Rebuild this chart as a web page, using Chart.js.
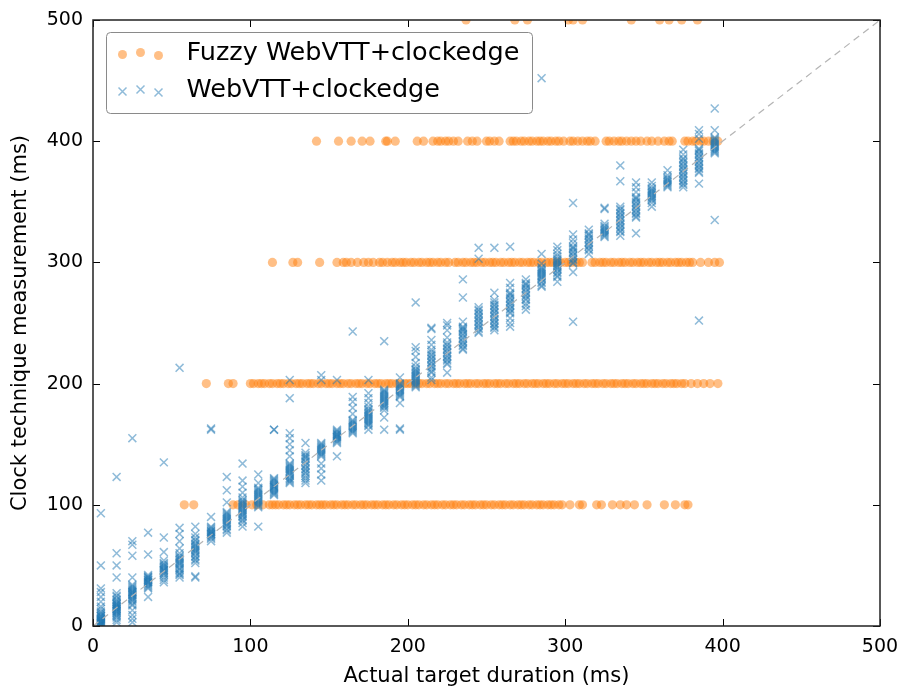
<!DOCTYPE html>
<html>
<head>
<meta charset="utf-8">
<script src="https://cdn.jsdelivr.net/npm/chart.js@4/dist/chart.umd.min.js"></script>
<style>
  body { margin: 0; background: #fff; }
  canvas { display: block; }
</style>
</head>
<body>
<canvas id="chart" width="899" height="689"></canvas>
<script>
// series names, axis titles, ticks
var seriesNames = ['Fuzzy WebVTT+clockedge', 'WebVTT+clockedge'];
var xTitle = 'Actual target duration (ms)';
var yTitle = 'Clock technique measurement (ms)';
var axisTicks = [0, 100, 200, 300, 400, 500];

// fuzzy technique: measurement snaps to one of these levels
var fuzzyLevels = [100, 200, 300, 400, 500];
var fuzzy100 = [58, 64, 89, 92, 97, 101, 104, 108, 112, 114, 116, 118, 121, 123, 125, 128, 130, 132, 135, 137, 139, 142, 144, 146, 148, 151, 153, 155, 158, 160, 162, 165, 167, 170, 172, 174, 177, 179, 181, 184, 186, 188, 191, 193, 196, 198, 200, 203, 205, 207, 210, 212, 215, 217, 219, 222, 224, 227, 229, 231, 234, 236, 239, 241, 243, 246, 248, 250, 253, 255, 258, 260, 262, 265, 267, 270, 272, 274, 277, 279, 282, 284, 286, 289, 291, 293, 296, 298, 303, 309, 311, 320, 323, 330, 335, 339, 344, 352, 363, 370, 376, 378];
var fuzzy200 = [72, 86, 89, 100, 102, 105, 107, 109, 112, 114, 117, 119, 121, 124, 126, 129, 131, 133, 136, 138, 140, 143, 145, 148, 150, 152, 155, 157, 159, 162, 164, 167, 169, 171, 174, 176, 179, 181, 183, 186, 188, 190, 193, 195, 198, 200, 202, 205, 207, 209, 212, 214, 217, 219, 221, 224, 226, 229, 231, 233, 236, 238, 240, 243, 245, 248, 250, 252, 255, 257, 259, 262, 264, 267, 269, 271, 274, 276, 279, 281, 283, 286, 288, 290, 293, 295, 298, 300, 302, 305, 307, 309, 312, 314, 317, 319, 321, 324, 326, 329, 331, 333, 336, 338, 340, 343, 345, 348, 350, 352, 355, 357, 359, 362, 364, 367, 369, 371, 374, 376, 380, 384, 388, 392, 397];
var fuzzy300 = [114, 127, 130, 144, 155, 159, 161, 164, 168, 172, 175, 178, 182, 184, 187, 190, 192, 195, 197, 199, 202, 204, 207, 209, 212, 214, 216, 219, 221, 224, 226, 230, 232, 235, 237, 240, 242, 244, 247, 249, 252, 254, 256, 259, 261, 264, 266, 268, 271, 273, 276, 278, 280, 283, 285, 288, 290, 292, 295, 297, 300, 302, 304, 307, 309, 311, 317, 319, 322, 324, 326, 329, 331, 334, 336, 338, 341, 343, 346, 348, 350, 353, 355, 358, 360, 362, 365, 367, 370, 372, 374, 377, 379, 381, 386, 391, 395, 398];
var fuzzy400 = [142, 156, 164, 171, 176, 186, 187, 192, 206, 210, 216, 219, 221, 224, 226, 229, 232, 238, 241, 244, 250, 252, 255, 258, 265, 267, 269, 272, 274, 277, 279, 282, 284, 286, 289, 291, 294, 296, 299, 303, 305, 308, 311, 314, 316, 319, 326, 328, 331, 334, 336, 339, 342, 345, 348, 352, 355, 359, 363, 366, 368, 376, 378, 381, 383, 386, 388, 391, 394, 397];
var fuzzy500 = [237, 268, 276, 302, 305, 311, 342, 360, 366, 374, 384];
var fuzzyX = [fuzzy100, fuzzy200, fuzzy300, fuzzy400, fuzzy500];

// plain technique: target durations and the measurements taken at each
var webvttTargets = [5, 15, 25, 35, 45, 55, 65, 75, 85, 95, 105, 115, 125, 135, 145, 155, 165, 175, 185, 195,
  205, 215, 225, 235, 245, 255, 265, 275, 285, 295, 305, 315, 325, 335, 345, 355, 365, 375, 385, 395];
var webvttMeasured = [
  [0, 1, 1, 2, 2, 3, 3, 4, 4, 5, 5, 6, 6, 7, 8, 8, 9, 10, 11, 12, 14, 16, 20, 24, 28, 31, 50, 93],
  [3, 5, 7, 8, 9, 10, 11, 12, 12, 13, 14, 14, 15, 16, 16, 17, 18, 18, 19, 20, 21, 22, 24, 25, 27, 40, 50, 60, 123],
  [3, 6, 9, 13, 17, 18, 20, 21, 22, 23, 24, 25, 26, 26, 27, 28, 28, 29, 30, 31, 32, 33, 34, 40, 58, 67, 70, 155],
  [24, 31, 32, 33, 34, 35, 36, 36, 37, 38, 38, 39, 40, 40, 41, 42, 59, 77],
  [36, 38, 40, 42, 43, 44, 45, 46, 46, 47, 48, 49, 50, 51, 52, 54, 61, 73, 135],
  [40, 42, 43, 44, 46, 47, 48, 50, 51, 52, 53, 54, 55, 56, 57, 58, 60, 64, 70, 76, 81, 213],
  [40, 41, 52, 54, 55, 57, 58, 60, 61, 62, 63, 64, 65, 66, 67, 68, 70, 71, 73, 76, 82],
  [70, 72, 73, 74, 75, 76, 76, 77, 78, 78, 79, 80, 81, 82, 90, 162, 163],
  [77, 79, 80, 82, 83, 84, 85, 86, 87, 88, 89, 90, 91, 92, 93, 94, 102, 112, 123],
  [82, 85, 87, 88, 90, 91, 92, 93, 94, 95, 96, 97, 98, 99, 100, 101, 102, 103, 104, 106, 110, 115, 120, 134],
  [82, 98, 99, 100, 101, 102, 103, 104, 105, 106, 107, 108, 109, 110, 111, 112, 113, 114, 118, 125],
  [108, 109, 110, 111, 112, 113, 114, 115, 115, 116, 117, 118, 119, 120, 121, 122, 162, 162],
  [118, 119, 120, 121, 122, 124, 125, 126, 127, 128, 129, 130, 131, 132, 133, 134, 140, 145, 150, 155, 159, 188, 203],
  [118, 120, 122, 124, 126, 127, 129, 130, 132, 133, 135, 136, 138, 139, 140, 141, 143, 151],
  [120, 125, 130, 134, 140, 141, 142, 143, 144, 145, 146, 147, 148, 149, 150, 151, 203, 207],
  [140, 151, 152, 153, 154, 155, 156, 156, 157, 158, 158, 159, 160, 161, 162, 203],
  [159, 160, 161, 162, 163, 164, 165, 166, 167, 168, 169, 170, 175, 180, 185, 189, 243],
  [162, 165, 166, 167, 168, 169, 170, 171, 172, 173, 174, 175, 176, 177, 178, 179, 181, 184, 188, 192, 203],
  [162, 172, 178, 180, 181, 182, 183, 184, 185, 186, 187, 188, 189, 190, 191, 192, 193, 194, 195, 235],
  [162, 163, 184, 189, 190, 191, 192, 193, 194, 195, 196, 197, 198, 199, 200, 205],
  [197, 198, 199, 200, 201, 202, 203, 204, 205, 206, 207, 208, 209, 210, 211, 212, 214, 217, 222, 227, 230, 267],
  [203, 205, 209, 210, 212, 214, 215, 217, 218, 220, 221, 223, 224, 226, 228, 232, 236, 245, 246],
  [209, 216, 217, 219, 220, 222, 223, 225, 226, 228, 229, 231, 232, 234, 238, 244, 248, 250],
  [228, 229, 231, 232, 234, 235, 237, 238, 240, 241, 243, 244, 245, 246, 247, 251, 271, 286],
  [242, 243, 245, 246, 248, 249, 251, 252, 254, 255, 257, 258, 260, 261, 263, 303, 312],
  [244, 246, 247, 249, 250, 252, 253, 255, 256, 258, 259, 261, 262, 264, 265, 267, 269, 275, 312],
  [247, 250, 254, 258, 259, 261, 262, 264, 265, 267, 268, 270, 271, 273, 274, 275, 279, 283, 313],
  [261, 264, 266, 269, 270, 272, 273, 275, 276, 278, 279, 281, 282, 283, 286],
  [280, 281, 283, 284, 286, 287, 288, 289, 290, 291, 292, 293, 294, 295, 296, 299, 307, 452],
  [284, 288, 289, 291, 292, 294, 295, 296, 297, 298, 299, 300, 301, 302, 303, 305, 307, 310, 313],
  [251, 292, 299, 300, 302, 303, 305, 306, 308, 309, 311, 312, 313, 316, 319, 323, 349],
  [307, 310, 311, 313, 314, 316, 317, 319, 320, 322, 323, 324, 327],
  [321, 322, 323, 324, 325, 326, 327, 328, 329, 330, 332, 344, 345],
  [322, 325, 326, 328, 329, 331, 332, 334, 335, 337, 338, 340, 341, 343, 344, 346, 367, 380],
  [324, 337, 338, 340, 341, 343, 344, 346, 347, 349, 350, 352, 353, 354, 358, 362, 366],
  [346, 349, 351, 352, 353, 354, 355, 356, 357, 358, 359, 360, 361, 363, 366],
  [362, 363, 364, 365, 366, 367, 368, 369, 370, 372, 376],
  [362, 364, 365, 367, 368, 370, 371, 373, 374, 376, 377, 379, 380, 382, 383, 385, 386, 389, 393],
  [252, 365, 374, 375, 377, 378, 380, 381, 383, 384, 386, 387, 389, 390, 392, 393, 394, 402, 406, 409],
  [335, 390, 391, 392, 393, 394, 395, 396, 397, 398, 399, 400, 401, 402, 403, 409, 427]
];

var fuzzyPoints = [];
fuzzyX.forEach(function (xs, i) {
    xs.forEach(function (x) { fuzzyPoints.push({ x: x, y: fuzzyLevels[i] }); });
});
var webvttPoints = [];
webvttTargets.forEach(function (t, i) {
    webvttMeasured[i].forEach(function (m) { webvttPoints.push({ x: t, y: m }); });
});

var orange = 'rgba(255, 127, 14, 0.5)';
var blue = 'rgba(31, 119, 180, 0.5)';
var tickFont = { family: "'DejaVu Sans'", size: 19 };
var titleFont = { family: "'DejaVu Sans'", size: 21 };

// frame, inward ticks on all four sides, and the legend box
var framePlugin = {
    id: 'frame',
    afterDatasetsDraw: function (chart) {
        var ctx = chart.ctx, a = chart.chartArea;
        var xs = chart.scales.x, ys = chart.scales.y;
        ctx.save();
        ctx.strokeStyle = '#000';
        ctx.lineWidth = 1;
        xs.ticks.forEach(function (t) {
            var px = Math.round(xs.getPixelForValue(t.value)) + 0.5;
            ctx.beginPath();
            ctx.moveTo(px, a.bottom); ctx.lineTo(px, a.bottom - 7);
            ctx.moveTo(px, a.top); ctx.lineTo(px, a.top + 7);
            ctx.stroke();
        });
        ys.ticks.forEach(function (t) {
            var py = Math.round(ys.getPixelForValue(t.value)) + 0.5;
            ctx.beginPath();
            ctx.moveTo(a.left, py); ctx.lineTo(a.left + 7, py);
            ctx.moveTo(a.right, py); ctx.lineTo(a.right - 7, py);
            ctx.stroke();
        });
        ctx.lineWidth = 1.5;
        ctx.strokeStyle = '#222';
        ctx.strokeRect(a.left, a.top, a.right - a.left, a.bottom - a.top);

        // legend
        var bx = a.left + 13.5, by = a.top + 12.5, bw = 426, bh = 81;
        ctx.beginPath();
        ctx.roundRect(bx, by, bw, bh, 4);
        ctx.fillStyle = '#fff';
        ctx.fill();
        ctx.lineWidth = 1;
        ctx.strokeStyle = '#8a8a8a';
        ctx.stroke();
        var mx = [bx + 16, bx + 34, bx + 52];
        var jitter = [1, -1, 2];
        var rows = [by + 21, by + 58];
        mx.forEach(function (x, k) {
            ctx.beginPath();
            ctx.arc(x, rows[0] + jitter[k], 4.5, 0, Math.PI * 2);
            ctx.fillStyle = orange;
            ctx.fill();
            var y = rows[1] + jitter[k];
            ctx.beginPath();
            ctx.moveTo(x - 4, y - 4); ctx.lineTo(x + 4, y + 4);
            ctx.moveTo(x - 4, y + 4); ctx.lineTo(x + 4, y - 4);
            ctx.lineWidth = 1.5;
            ctx.strokeStyle = blue;
            ctx.stroke();
        });
        ctx.fillStyle = '#000';
        ctx.font = "25.5px 'DejaVu Sans'";
        ctx.textBaseline = 'middle';
        ctx.fillText(seriesNames[0], bx + 80, rows[0]);
        ctx.fillText(seriesNames[1], bx + 80, rows[1]);
        ctx.restore();
    }
};

var ctx = document.getElementById('chart');
var myChart = new Chart(ctx, {
    type: 'scatter',
    data: {
        datasets: [{
            type: 'line',
            label: 'diagonal',
            data: [{ x: 0, y: 0 }, { x: 500, y: 500 }],
            borderColor: '#b4b4b4',
            borderWidth: 1.2,
            borderDash: [7, 5],
            pointRadius: 0,
            fill: false,
            order: 0
        }, {
            label: seriesNames[1],
            data: webvttPoints,
            pointStyle: 'crossRot',
            pointRadius: 5.6,
            pointBorderWidth: 1.5,
            borderColor: blue,
            backgroundColor: blue,
            clip: 0,
            order: 1
        }, {
            label: seriesNames[0],
            data: fuzzyPoints,
            pointStyle: 'circle',
            pointRadius: 4.6,
            pointBorderWidth: 0,
            borderColor: 'rgba(0,0,0,0)',
            backgroundColor: orange,
            clip: 0,
            order: 2
        }]
    },
    options: {
        responsive: false,
        animation: false,
        events: [],
        layout: { padding: { left: 0, right: 19, top: 20, bottom: 0 } },
        plugins: {
            legend: { display: false },
            tooltip: { enabled: false }
        },
        scales: {
            x: {
                type: 'linear',
                min: 0,
                max: 500,
                afterBuildTicks: function (s) { s.ticks = axisTicks.map(function (v) { return { value: v }; }); },
                afterFit: function (s) { s.height = 63; s.paddingLeft = 0; s.paddingRight = 0; },
                grid: { display: false, drawTicks: false },
                border: { display: false },
                ticks: { padding: 10, color: '#000', font: tickFont, maxRotation: 0 },
                title: { display: true, text: xTitle, color: '#000', font: titleFont, padding: { top: 0, bottom: 0 } }
            },
            y: {
                type: 'linear',
                min: 0,
                max: 500,
                afterBuildTicks: function (s) { s.ticks = axisTicks.map(function (v) { return { value: v }; }); },
                afterFit: function (s) { s.width = 93; s.paddingTop = 0; s.paddingBottom = 0; },
                grid: { display: false, drawTicks: false },
                border: { display: false },
                ticks: { padding: 10, color: '#000', font: tickFont },
                title: { display: true, text: yTitle, color: '#000', font: titleFont, padding: { top: 8, bottom: 0 } }
            }
        }
    },
    plugins: [framePlugin]
});
</script>
</body>
</html>
